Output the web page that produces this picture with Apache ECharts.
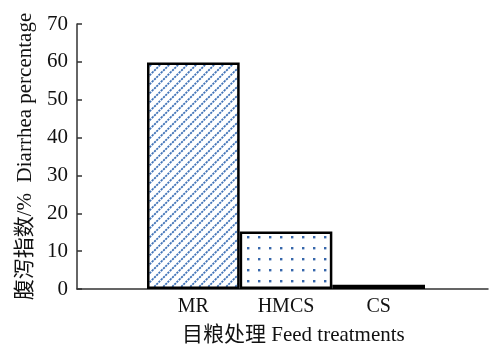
<!DOCTYPE html>
<html><head><meta charset="utf-8">
<script src="https://cdn.jsdelivr.net/npm/echarts@6/dist/echarts.min.js"></script>
<style>html,body{margin:0;padding:0;background:#fff}#c{width:490px;height:344px}</style>
</head><body><div id="c"></div>
<script>
var categories = ['MR', 'HMCS', 'CS'];
var values = [59.8, 15.2, 1.1];
var yTicks = [0, 10, 20, 30, 40, 50, 60, 70];
var xTitle = '目粮处理 Feed treatments';
var yTitle = '腹泻指数/%  Diarrhea percentage';

var BLUE = '#4274b8';
function tile(w, h, draw) {
  var c = document.createElement('canvas');
  c.width = w; c.height = h;
  var g = c.getContext('2d');
  g.fillStyle = '#fff'; g.fillRect(0, 0, w, h);
  g.fillStyle = BLUE; g.strokeStyle = BLUE;
  draw(g);
  return c;
}
var hatch = tile(9, 9, function (g) {
  g.lineWidth = 1.8;
  g.setLineDash([2.2, 0.9]);
  [-9, 0, 9].forEach(function (o) {
    g.beginPath(); g.moveTo(o - 1, 10); g.lineTo(o + 10, -1); g.stroke();
  });
});
var dots = tile(11, 11, function (g) {
  g.fillStyle = '#3767ab'; g.fillRect(5, 5, 2.4, 2.4);
});
var fine = tile(6, 4, function (g) { g.fillRect(1, 1, 3, 2); });
var patterns = [hatch, dots, fine];

var FONT = "'Liberation Serif', 'Noto Sans CJK SC', serif";
var chart = echarts.init(document.getElementById('c'));
chart.setOption({
  animation: false,
  grid: [
    { left: 77, right: 2, top: 24, bottom: 55 },
    { left: 147, width: 278, top: 24, bottom: 55 }
  ],
  title: {
    text: xTitle, left: 177, top: 320,
    textStyle: { fontFamily: FONT, fontSize: 21, fontWeight: 'normal', color: '#111' }
  },
  xAxis: [
    { gridIndex: 0, type: 'value', min: 0, max: 1,
      axisLine: { show: true, lineStyle: { color: '#333', width: 1.5 } },
      axisTick: { show: false }, axisLabel: { show: false }, splitLine: { show: false } },
    { gridIndex: 1, type: 'category', data: categories,
      axisLine: { show: false }, axisTick: { show: false },
      axisLabel: { margin: 8, fontFamily: FONT, fontSize: 20, color: '#111' } }
  ],
  yAxis: [
    { gridIndex: 0, type: 'value', min: yTicks[0], max: yTicks[yTicks.length - 1], interval: 10,
      axisLine: { show: true, lineStyle: { color: '#333', width: 1.5 } },
      axisTick: { show: true, inside: true, length: 5, lineStyle: { color: '#333', width: 1.5 } },
      axisLabel: { margin: 9, fontFamily: FONT, fontSize: 21, color: '#111' },
      splitLine: { show: false },
      name: yTitle, nameLocation: 'middle', nameGap: 41,
      nameTextStyle: { fontFamily: FONT, fontSize: 21, color: '#111' } },
    { gridIndex: 1, type: 'value', min: yTicks[0], max: yTicks[yTicks.length - 1], show: false }
  ],
  series: [{
    type: 'bar', xAxisIndex: 1, yAxisIndex: 1,
    barCategoryGap: 0,
    data: values.map(function (v, i) {
      return { value: v, itemStyle: { color: { image: patterns[i], repeat: 'repeat' } } };
    }),
    itemStyle: { borderColor: '#000', borderWidth: 2.5 }
  }]
});
</script></body></html>
